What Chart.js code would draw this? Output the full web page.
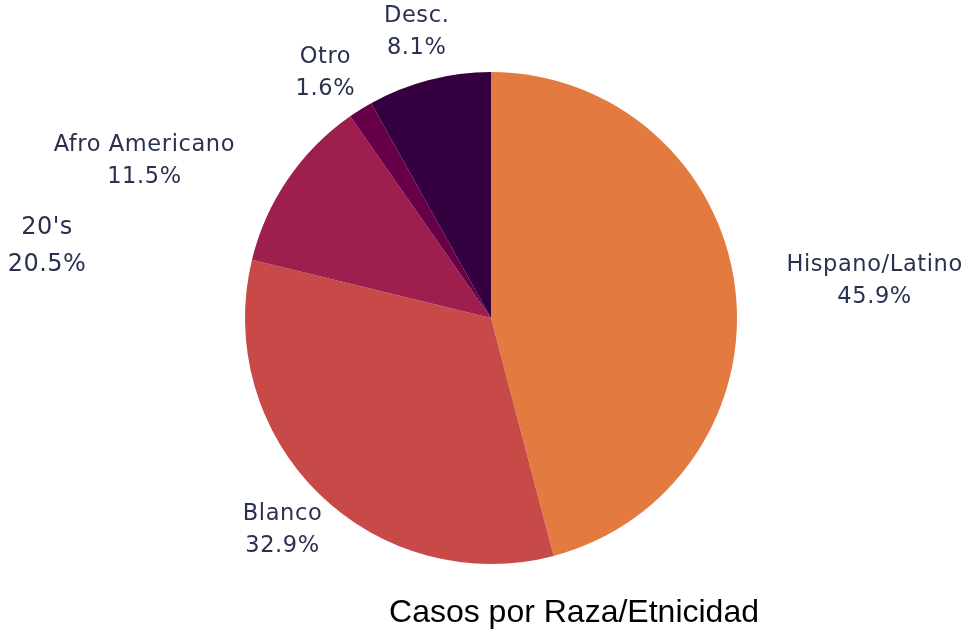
<!DOCTYPE html>
<html>
<head>
<meta charset="utf-8">
<script src="https://cdn.jsdelivr.net/npm/chart.js@4/dist/chart.umd.min.js"></script>
<style>
    body { margin: 0; background: #fff; }
    #wrap { width: 968px; height: 635px; }
</style>
</head>
<body>
<div id="wrap"><canvas id="pie" width="968" height="635"></canvas></div>
<script>
// datos
let categories = ['Hispano/Latino', 'Blanco', 'Afro Americano', 'Otro', 'Desc.'];
let percents = [45.9, 32.9, 11.5, 1.6, 8.1];
let colors = ['#e37a3f', '#c84a48', '#9e1f4e', '#670048', '#340040'];
let extraLabel = "20's";
let extraPercent = 20.5;
let chartTitle = 'Casos por Raza/Etnicidad';

// label placement (radius factor + pixel nudge)
let labelK = [1.56, 1.21, 1.53, 1.2, 1.2];
let labelNudge = [[3, 12], [0, 0], [-36, 56], [-9, 5], [0, 0]];

let textColor = '#2a3150';

const labelPlugin = {
    id: 'sliceLabels',
    afterDraw(chart) {
        let ctx = chart.ctx;
        let arcs = chart.getDatasetMeta(0).data;
        ctx.save();
        ctx.fillStyle = textColor;
        ctx.textAlign = 'center';
        ctx.textBaseline = 'middle';
        ctx.letterSpacing = '0.6px';
        ctx.font = '22.5px "DejaVu Sans"';
        let cx = 0, cy = 0, r = 0;
        for (let i = 0; i < arcs.length; i++) {
            let a = arcs[i];
            cx = a.x; cy = a.y; r = a.outerRadius;
            let mid = (a.startAngle + a.endAngle) / 2;
            let x = a.x + Math.cos(mid) * r * labelK[i] + labelNudge[i][0];
            let y = a.y + Math.sin(mid) * r * labelK[i] + labelNudge[i][1];
            ctx.fillText(categories[i], x, y - 16);
            ctx.fillText(percents[i].toFixed(1) + '%', x, y + 16);
        }
        // etiqueta suelta
        ctx.letterSpacing = '0.5px';
        ctx.font = '24px "DejaVu Sans"';
        ctx.fillText(extraLabel, cx - 444, cy - 90);
        ctx.fillText(extraPercent.toFixed(1) + '%', cx - 444, cy - 53);

        // titulo
        ctx.letterSpacing = '0px';
        ctx.fillStyle = '#000';
        ctx.font = '32px "Liberation Sans"';
        ctx.fillText(chartTitle, 574, 613);
        ctx.restore();
    }
};

let myChart = document.getElementById('pie').getContext('2d');
let pieChart = new Chart(myChart, {
    type: 'pie',
    data: {
        labels: categories,
        datasets: [{
            data: percents,
            backgroundColor: colors,
            borderWidth: 0
        }]
    },
    options: {
        responsive: false,
        animation: false,
        layout: {
            padding: { top: 72, bottom: 71, left: 14, right: 0 }
        },
        plugins: {
            legend: { display: false },
            tooltip: { enabled: false },
            title: { display: false }
        }
    },
    plugins: [labelPlugin]
});
</script>
</body>
</html>
